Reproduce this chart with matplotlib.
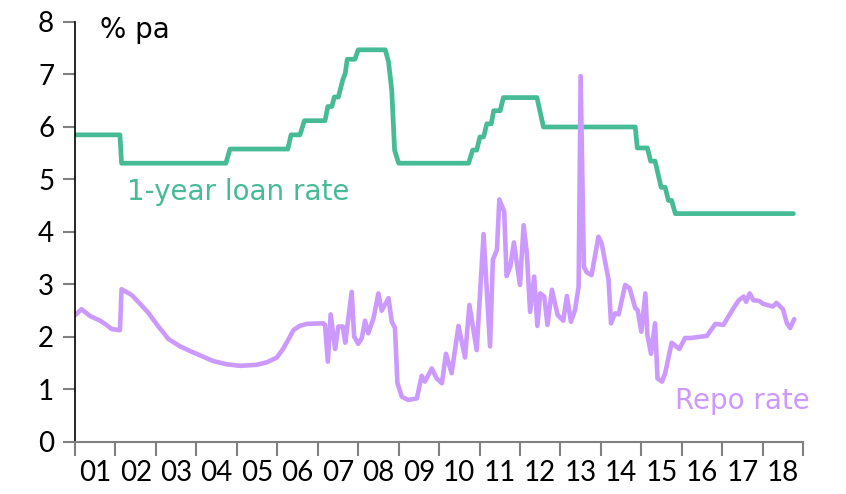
#!/usr/bin/env python3
import matplotlib
matplotlib.use("Agg")
import matplotlib.pyplot as plt
import numpy as np

# 1-year loan rate (stepwise), % pa
loan_t = [2001.0, 2002.11, 2002.15, 2004.73, 2004.83, 2006.26, 2006.34, 2006.56,
          2006.67, 2007.18, 2007.25, 2007.35, 2007.41, 2007.51, 2007.62, 2007.68,
          2007.73, 2007.92, 2008.0, 2008.67, 2008.75, 2008.83, 2008.9, 2009.0,
          2010.73, 2010.83, 2010.93, 2011.01, 2011.1, 2011.18, 2011.29, 2011.35,
          2011.51, 2011.59, 2012.42, 2012.58, 2014.85, 2014.9, 2015.15, 2015.23,
          2015.34, 2015.49, 2015.59, 2015.67, 2015.75, 2015.84, 2018.76]
loan_v = [5.85, 5.85, 5.31, 5.31, 5.58, 5.58, 5.85, 5.85,
          6.12, 6.12, 6.39, 6.39, 6.57, 6.57, 6.9, 7.02,
          7.29, 7.29, 7.47, 7.47, 7.24, 6.7, 5.56, 5.31,
          5.31, 5.56, 5.56, 5.81, 5.81, 6.06, 6.06, 6.31,
          6.31, 6.56, 6.56, 6.0, 6.0, 5.6, 5.6, 5.35,
          5.35, 4.85, 4.85, 4.6, 4.6, 4.35, 4.35]

# repo rate, % pa
repo_t = [2001.01, 2001.16, 2001.37, 2001.62, 2001.74, 2001.91, 2002.11, 2002.15,
          2002.40, 2002.61, 2002.81, 2003.06, 2003.31, 2003.60, 2003.88, 2004.15,
          2004.42, 2004.75, 2005.08, 2005.49, 2005.75, 2005.99, 2006.15, 2006.40,
          2006.55, 2006.73, 2007.14, 2007.18,
          2007.25, 2007.32, 2007.43, 2007.51, 2007.62, 2007.68, 2007.84, 2007.90,
          2008.0, 2008.09, 2008.17, 2008.25, 2008.38, 2008.50, 2008.58, 2008.75,
          2008.83, 2008.91, 2008.97, 2009.08, 2009.24, 2009.45, 2009.57, 2009.65,
          2009.82, 2009.94, 2010.07, 2010.17, 2010.31, 2010.48, 2010.64, 2010.75,
          2010.93, 2011.10, 2011.26, 2011.33, 2011.43, 2011.49, 2011.61, 2011.67,
          2011.76, 2011.85, 2012.00, 2012.09, 2012.17, 2012.25, 2012.35, 2012.43,
          2012.50, 2012.60, 2012.68, 2012.79, 2012.93, 2013.07, 2013.16, 2013.26,
          2013.36, 2013.45, 2013.50, 2013.58, 2013.65, 2013.77, 2013.94, 2014.02,
          2014.19, 2014.25, 2014.35, 2014.44, 2014.60, 2014.71, 2014.85, 2014.91,
          2015.00, 2015.10, 2015.15, 2015.24, 2015.34, 2015.40, 2015.51, 2015.59,
          2015.75, 2015.94, 2016.08, 2016.21, 2016.62, 2016.83, 2017.03, 2017.28,
          2017.41, 2017.53, 2017.59, 2017.68, 2017.77, 2017.90, 2018.02, 2018.25,
          2018.34, 2018.50, 2018.60, 2018.68, 2018.78]
repo_v = [2.42, 2.53, 2.40, 2.31, 2.25, 2.15, 2.13, 2.91,
          2.80, 2.63, 2.46, 2.20, 1.96, 1.82, 1.72, 1.63,
          1.54, 1.48, 1.45, 1.47, 1.52, 1.61, 1.78, 2.13,
          2.21, 2.25, 2.26, 2.23,
          1.53, 2.43, 1.77, 2.20, 2.20, 1.89, 2.86, 2.01,
          1.87, 1.98, 2.31, 2.07, 2.36, 2.83, 2.50, 2.74,
          2.29, 2.17, 1.12, 0.86, 0.80, 0.83, 1.26, 1.15,
          1.40, 1.21, 1.12, 1.68, 1.31, 2.21, 1.61, 2.61,
          1.75, 3.96, 1.82, 3.47, 3.66, 4.62, 4.39, 3.16,
          3.34, 3.80, 2.99, 4.13, 3.59, 2.48, 3.15, 2.21,
          2.83, 2.77, 2.23, 2.90, 2.42, 2.31, 2.78, 2.29,
          2.51, 2.96, 6.97, 3.34, 3.23, 3.18, 3.91, 3.78,
          3.09, 2.26, 2.45, 2.43, 2.99, 2.93, 2.55, 2.51,
          2.10, 2.83, 2.04, 1.68, 2.26, 1.21, 1.15, 1.31,
          1.89, 1.77, 1.98, 1.98, 2.02, 2.25, 2.23, 2.55,
          2.70, 2.77, 2.67, 2.83, 2.70, 2.69, 2.63, 2.58,
          2.65, 2.53, 2.26, 2.17, 2.34]

years = list(range(2001, 2019))
year_labels = ["%02d" % (y % 100) for y in years]

green = "#46BB96"
purple = "#CC99FF"
grey = "#808080"

plt.rcParams['font.family'] = ['Lato', 'DejaVu Sans']

fig = plt.figure(figsize=(8.46, 4.94), dpi=100)
ax = fig.add_axes([0.0887, 0.1053, 0.8606, 0.8502])

ax.plot(loan_t, loan_v, color=green, lw=3.4, solid_capstyle='round', solid_joinstyle='round')
ax.plot(repo_t, repo_v, color=purple, lw=3.3, solid_capstyle='round', solid_joinstyle='round')

ax.set_xlim(2001, 2019)
ax.set_ylim(0, 8)
ax.set_yticks(range(0, 9))
ax.tick_params(axis='y', direction='out', length=9, width=1.5, color=grey,
               labelsize=20, pad=6)

ax.set_xticks(range(2001, 2020))
ax.set_xticklabels([])
ax.set_xticks([y + 0.5 for y in years], minor=True)
ax.set_xticklabels(year_labels, minor=True)
ax.tick_params(axis='x', which='major', direction='out', length=10, width=1.5, color=grey)
ax.tick_params(axis='x', which='minor', length=0, labelsize=20, pad=13)

for s in ['top', 'right']:
    ax.spines[s].set_visible(False)
ax.spines['left'].set_color('black')
ax.spines['left'].set_linewidth(1.2)
ax.spines['bottom'].set_color(grey)
ax.spines['bottom'].set_linewidth(1.5)

lab = dict(fontsize=20, family='DejaVu Sans', va='center')
ax.text(2001.62, 7.85, "% pa", color='black', **lab)
ax.text(2002.29, 4.76, "1-year loan rate", color=green, **lab)
ax.text(2015.84, 0.78, "Repo rate", color=purple, **lab)

fig.savefig("out.png", dpi=100)
